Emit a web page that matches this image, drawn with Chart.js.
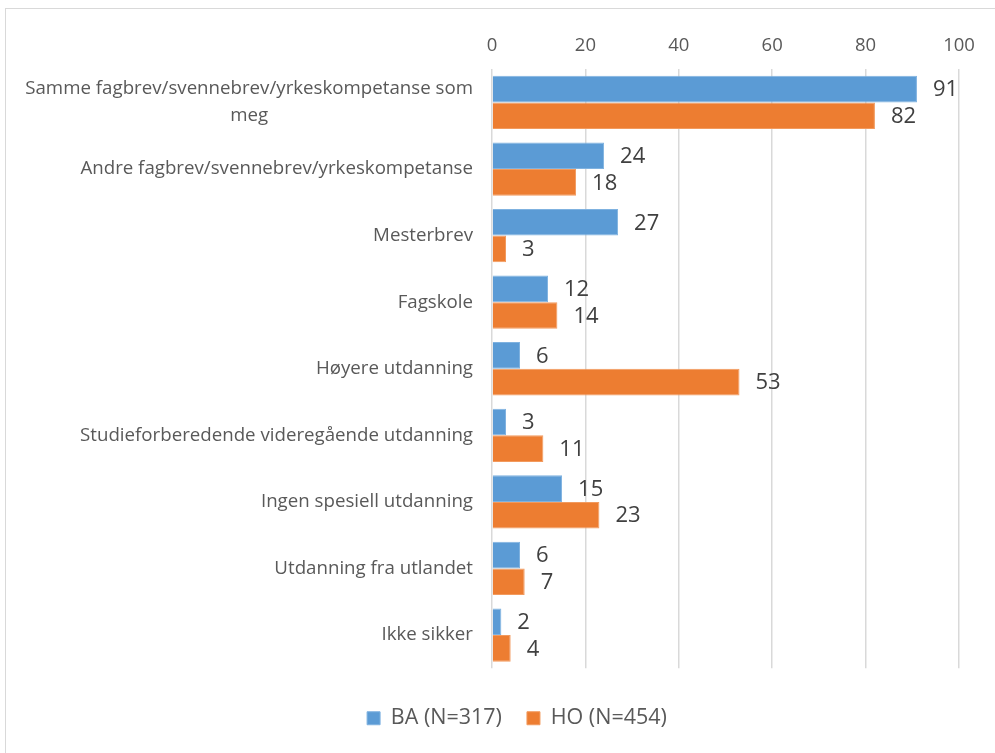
<!DOCTYPE html>
<html lang="no">
  <head>
    <meta charset="UTF-8" />
    <title>Utdanning</title>
    <style>
      html, body { margin: 0; padding: 0; background: #fff; overflow: hidden; }
      .frame { position: absolute; left: 5px; top: 8px; width: 1060px; height: 760px; border: 1px solid #d9d9d9; }
      /* diagrammet er bredere enn vinduet, slik som i originalen */
      .wrap { position: absolute; left: 0; top: 0; width: 1034px; height: 753px; }
    </style>
  </head>
  <body>
    <div class="frame"></div>
    <div class="wrap"><canvas id="bar"></canvas></div>

    <script src="https://cdn.jsdelivr.net/npm/chart.js@4.4.1/dist/chart.umd.min.js"></script>
    <script>
      // kategorier og verdier (prosent)
      const categories = [
        ["Samme fagbrev/svennebrev/yrkeskompetanse som", "meg"],
        "Andre fagbrev/svennebrev/yrkeskompetanse",
        "Mesterbrev",
        "Fagskole",
        "Høyere utdanning",
        "Studieforberedende videregående utdanning",
        "Ingen spesiell utdanning",
        "Utdanning fra utlandet",
        "Ikke sikker",
      ];
      const seriesNames = ["BA (N=317)", "HO (N=454)"];
      const baValues = [91, 24, 27, 12, 6, 3, 15, 6, 2];
      const hoValues = [82, 18, 3, 14, 53, 11, 23, 7, 4];
      const xTicks = [0, 20, 40, 60, 80, 100];

      const FONT = "'Open Sans', sans-serif";
      const TEXT = "#595959";

      // tall til høyre for hver stolpe
      const valueLabels = {
        id: "valueLabels",
        afterDatasetsDraw(chart) {
          const ctx = chart.ctx;
          ctx.save();
          ctx.font = "22px " + FONT;
          ctx.fillStyle = "#404040";
          ctx.textAlign = "left";
          ctx.textBaseline = "middle";
          chart.data.datasets.forEach((ds, i) => {
            chart.getDatasetMeta(i).data.forEach((bar, j) => {
              ctx.fillText(ds.data[j], bar.x + 16, bar.y + 1);
            });
          });
          ctx.restore();
        },
      };

      // kategorietiketter: blokk høyrejustert, linjer sentrert som i Excel
      const categoryLabels = {
        id: "categoryLabels",
        afterDraw(chart) {
          const ctx = chart.ctx;
          const y = chart.scales.y;
          const right = chart.chartArea.left - 19;
          const lineH = 27;
          ctx.save();
          ctx.font = "18.7px " + FONT;
          ctx.fillStyle = TEXT;
          ctx.textBaseline = "middle";
          ctx.textAlign = "center";
          categories.forEach((cat, i) => {
            const lines = Array.isArray(cat) ? cat : [cat];
            const w = Math.max(...lines.map((l) => ctx.measureText(l).width));
            const cx = right - w / 2;
            const cy = y.getPixelForTick(i);
            const top = cy - ((lines.length - 1) * lineH) / 2;
            lines.forEach((l, k) => ctx.fillText(l, cx, top + k * lineH));
          });
          ctx.restore();
        },
      };

      const chartData = {
        labels: categories,
        datasets: [
          {
            label: seriesNames[0],
            data: baValues,
            backgroundColor: "#5b9bd5",
            borderColor: "#7fb2e0",
            borderWidth: 1,
          },
          {
            label: seriesNames[1],
            data: hoValues,
            backgroundColor: "#ed7d31",
            borderColor: "#f29a5e",
            borderWidth: 1,
          },
        ],
      };

      const barConfig = {
        type: "bar",
        data: chartData,
        plugins: [valueLabels, categoryLabels],
        options: {
          indexAxis: "y",
          responsive: true,
          maintainAspectRatio: false,
          animation: false,
          categoryPercentage: 0.8,
          barPercentage: 1.0,
          layout: { padding: { top: 23, right: 0, bottom: 14, left: 0 } },
          scales: {
            x: {
              position: "top",
              min: 0,
              max: 100,
              afterBuildTicks: (scale) => {
                scale.ticks = xTicks.map((v) => ({ value: v }));
              },
              border: { display: false },
              grid: { color: "#d9d9d9", lineWidth: 1.5, drawTicks: false },
              ticks: { color: TEXT, font: { family: FONT, size: 18.5 }, padding: 12 },
            },
            y: {
              grid: { display: false },
              border: { display: false },
              ticks: { display: false },
              afterFit: (scale) => {
                scale.width = 492;
              },
            },
            // tom akse til høyre, gir luft mellom plottet og kanten
            yRight: {
              type: "category",
              position: "right",
              grid: { display: false },
              border: { display: false },
              ticks: { display: false },
              afterFit: (scale) => {
                scale.width = 75;
              },
            },
          },
          plugins: {
            legend: {
              position: "bottom",
              title: { display: true, text: "", font: { size: 1 }, padding: { top: 0, bottom: 13 } },
              labels: {
                boxWidth: 13,
                boxHeight: 13,
                color: TEXT,
                font: { family: FONT, size: 21.5 },
                padding: 25,
              },
            },
            tooltip: { enabled: false },
          },
        },
      };

      new Chart(document.getElementById("bar"), barConfig);
    </script>
  </body>
</html>
